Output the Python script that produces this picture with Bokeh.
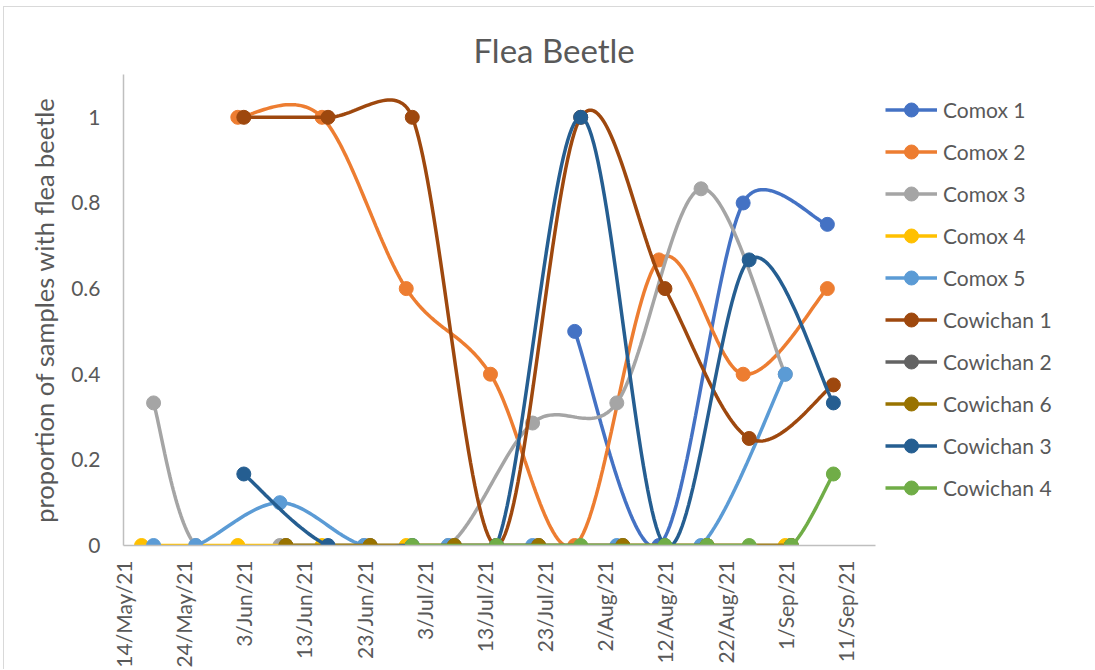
from datetime import date
import math

import numpy as np
from bokeh.plotting import figure
from bokeh.models import Range1d, FixedTicker, Legend, LegendItem
from bokeh.embed import file_html
from bokeh.resources import INLINE

# ---- data -----------------------------------------------------------------
series_names = ["Comox 1", "Comox 2", "Comox 3", "Comox 4", "Comox 5",
                "Cowichan 1", "Cowichan 2", "Cowichan 6", "Cowichan 3", "Cowichan 4"]
series_colors = ["#4472C4", "#ED7D31", "#A5A5A5", "#FFC000", "#5B9BD5",
                 "#9E480E", "#636363", "#997300", "#255E91", "#70AD47"]

comox1_dates = ["2021-07-28", "2021-08-11", "2021-08-25", "2021-09-08"]
comox1_values = [0.5, 0.0, 0.8, 0.75]

comox2_dates = ["2021-06-02", "2021-06-16", "2021-06-30", "2021-07-14",
                "2021-07-28", "2021-08-11", "2021-08-25", "2021-09-08"]
comox2_values = [1.0, 1.0, 0.6, 0.4, 0.0, 0.667, 0.4, 0.6]

comox3_dates = ["2021-05-19", "2021-05-26", "2021-06-09", "2021-06-23",
                "2021-07-07", "2021-07-21", "2021-08-04", "2021-08-18", "2021-09-01"]
comox3_values = [0.333, 0.0, 0.0, 0.0, 0.0, 0.286, 0.333, 0.833, 0.4]

comox4_dates = ["2021-05-17", "2021-06-02", "2021-06-16", "2021-06-30", "2021-09-01"]
comox4_values = [0.0, 0.0, 0.0, 0.0, 0.0]

comox5_dates = ["2021-05-19", "2021-05-26", "2021-06-09", "2021-06-23", "2021-07-07",
                "2021-07-21", "2021-08-04", "2021-08-18", "2021-09-01"]
comox5_values = [0.0, 0.0, 0.1, 0.0, 0.0, 0.0, 0.0, 0.0, 0.4]

cowichan1_dates = ["2021-06-03", "2021-06-17", "2021-07-01", "2021-07-15",
                   "2021-07-29", "2021-08-12", "2021-08-26", "2021-09-09"]
cowichan1_values = [1.0, 1.0, 1.0, 0.0, 1.0, 0.6, 0.25, 0.375]

cowichan2_dates = ["2021-06-10", "2021-06-24", "2021-07-08", "2021-07-22",
                   "2021-08-05", "2021-08-19", "2021-09-02"]
cowichan2_values = [0.0, 0.0, 0.0, 0.0, 0.0, 0.0, 0.0]

cowichan6_dates = ["2021-06-10", "2021-06-24", "2021-07-08", "2021-07-22",
                   "2021-08-05", "2021-08-19", "2021-09-02"]
cowichan6_values = [0.0, 0.0, 0.0, 0.0, 0.0, 0.0, 0.0]

cowichan3_dates = ["2021-06-03", "2021-06-17", "2021-07-01", "2021-07-15",
                   "2021-07-29", "2021-08-12", "2021-08-26", "2021-09-09"]
cowichan3_values = [0.167, 0.0, 0.0, 0.0, 1.0, 0.0, 0.667, 0.333]

cowichan4_dates = ["2021-07-01", "2021-07-15", "2021-07-29", "2021-08-12",
                   "2021-08-19", "2021-08-26", "2021-09-02", "2021-09-09"]
cowichan4_values = [0.0, 0.0, 0.0, 0.0, 0.0, 0.0, 0.0, 0.167]

x_tick_labels = ["14/May/21", "24/May/21", "3/Jun/21", "13/Jun/21", "23/Jun/21",
                 "3/Jul/21", "13/Jul/21", "23/Jul/21", "2/Aug/21", "12/Aug/21",
                 "22/Aug/21", "1/Sep/21", "11/Sep/21"]
y_ticks = [0, 0.2, 0.4, 0.6, 0.8, 1.0]
y_tick_labels = ["0", "0.2", "0.4", "0.6", "0.8", "1"]

all_dates = [comox1_dates, comox2_dates, comox3_dates, comox4_dates, comox5_dates,
             cowichan1_dates, cowichan2_dates, cowichan6_dates, cowichan3_dates,
             cowichan4_dates]
all_values = [comox1_values, comox2_values, comox3_values, comox4_values, comox5_values,
              cowichan1_values, cowichan2_values, cowichan6_values, cowichan3_values,
              cowichan4_values]

# ---- geometry ---------------------------------------------------------------
START = date(2021, 5, 14)
AXIS_DAYS = 125              # length of the drawn date axis
Y_MAX = 1.1
AXIS_W, FRAME_H = 752, 474   # pixel length of the date axis, frame height
CANVAS_W, CANVAS_H = 1091, 663
BORDER_L, BORDER_T, BORDER_B = 119, 67, 122
FRAME_W = CANVAS_W - BORDER_L  # frame runs to the right edge; legend sits inside


def day_offset(s):
    y, m, d = (int(v) for v in s.split("-"))
    return (date(y, m, d) - START).days


SX = AXIS_W / AXIS_DAYS      # pixels per day
SY = FRAME_H / Y_MAX         # pixels per unit
X_END = FRAME_W / SX


def smooth_curve(xs, ys, n=40):
    """Bezier smoothing with tangents limited to half the segment length,
    evaluated in screen space so the curve bends the same way on screen."""
    px = [(x * SX, y * SY) for x, y in zip(xs, ys)]
    if len(px) < 2:
        return list(xs), list(ys)

    def dist(a, b):
        return math.hypot(a[0] - b[0], a[1] - b[1])

    out = [px[0]]
    t = np.linspace(0, 1, n)[1:]
    for i in range(len(px) - 1):
        p0 = px[i - 1] if i > 0 else px[i]
        p1 = px[i]
        p2 = px[i + 1]
        p3 = px[i + 2] if i + 2 < len(px) else px[i + 1]
        d12 = dist(p1, p2)
        d02 = dist(p0, p2)
        d13 = dist(p1, p3)
        f1 = 1 / 6 if d02 / 6 < d12 / 2 else (d12 / d02 / 2 if d02 > 0 else 0)
        f2 = 1 / 6 if d13 / 6 < d12 / 2 else (d12 / d13 / 2 if d13 > 0 else 0)
        b1 = (p1[0] + (p2[0] - p0[0]) * f1, p1[1] + (p2[1] - p0[1]) * f1)
        b2 = (p2[0] - (p3[0] - p1[0]) * f2, p2[1] - (p3[1] - p1[1]) * f2)
        for tt in t:
            a = (1 - tt) ** 3
            b = 3 * (1 - tt) ** 2 * tt
            c = 3 * (1 - tt) * tt ** 2
            d = tt ** 3
            out.append((a * p1[0] + b * b1[0] + c * b2[0] + d * p2[0],
                        a * p1[1] + b * b1[1] + c * b2[1] + d * p2[1]))
    return [q[0] / SX for q in out], [q[1] / SY for q in out]


# ---- figure -----------------------------------------------------------------
FONT = "Lato"
TEXT = "#595959"

p = figure(width=CANVAS_W, height=CANVAS_H, output_backend="svg", toolbar_location=None,
           x_range=Range1d(0, X_END), y_range=Range1d(0, Y_MAX),
           min_border_left=BORDER_L, min_border_right=0,
           min_border_top=BORDER_T, min_border_bottom=BORDER_B,
           title="Flea Beetle")
p.margin = (6, 0, 0, 3)
p.styles = {"border-left": "1px solid #D9D9D9", "border-top": "1px solid #D9D9D9"}
p.outline_line_color = None
p.background_fill_color = "white"
p.border_fill_color = "white"
p.xgrid.visible = False
p.ygrid.visible = False

p.title.align = "left"
p.title.offset = 350
p.title.text_font = FONT
p.title.text_font_size = "33px"
p.title.text_font_style = "normal"
p.title.text_color = TEXT
p.title.standoff = 10

x_ticks = list(range(0, 121, 10))
xa = p.xaxis[0]
xa.bounds = (0, AXIS_DAYS)
xa.ticker = FixedTicker(ticks=x_ticks)
xa.major_label_overrides = {t: lab for t, lab in zip(x_ticks, x_tick_labels)}
xa.major_label_orientation = math.pi / 2
xa.major_label_text_font = FONT
xa.major_label_text_font_size = "21px"
xa.major_label_text_color = TEXT
xa.major_label_standoff = 15
xa.major_tick_out = 0
xa.major_tick_in = 0
xa.minor_tick_out = 0
xa.minor_tick_in = 0
xa.axis_line_color = "#BFBFBF"
xa.axis_line_width = 1.5

ya = p.yaxis[0]
ya.ticker = FixedTicker(ticks=y_ticks)
ya.major_label_overrides = {t: lab for t, lab in zip(y_ticks, y_tick_labels)}
ya.major_label_text_font = FONT
ya.major_label_text_font_size = "21px"
ya.major_label_text_color = TEXT
ya.major_label_standoff = 23
ya.major_tick_out = 0
ya.major_tick_in = 0
ya.minor_tick_out = 0
ya.minor_tick_in = 0
ya.axis_line_color = "#BFBFBF"
ya.axis_line_width = 1.5
ya.axis_label = "proportion of samples with flea beetle"
ya.axis_label_text_font = FONT
ya.axis_label_text_font_size = "25.5px"
ya.axis_label_text_font_style = "normal"
ya.axis_label_text_color = TEXT
ya.axis_label_standoff = 9

items = []
for name, color, ds, vs in zip(series_names, series_colors, all_dates, all_values):
    xs = [day_offset(s) for s in ds]
    cx, cy = smooth_curve(xs, vs)
    lr = p.line(cx, cy, line_color=color, line_width=3.5)
    sr = p.scatter(xs, vs, marker="circle", size=14, fill_color=color, line_color=color)
    items.append(LegendItem(label=name, renderers=[lr, sr]))

legend = Legend(items=items, location=(762, 40))
legend.border_line_color = None
legend.background_fill_alpha = 0
legend.label_text_font = FONT
legend.label_text_font_size = "21px"
legend.label_text_color = TEXT
legend.glyph_width = 52
legend.glyph_height = 35
legend.label_height = 35
legend.spacing = 7
legend.padding = 0
legend.margin = 0
legend.label_standoff = 6
p.add_layout(legend)

open("out.html", "w").write(file_html(p, INLINE))
